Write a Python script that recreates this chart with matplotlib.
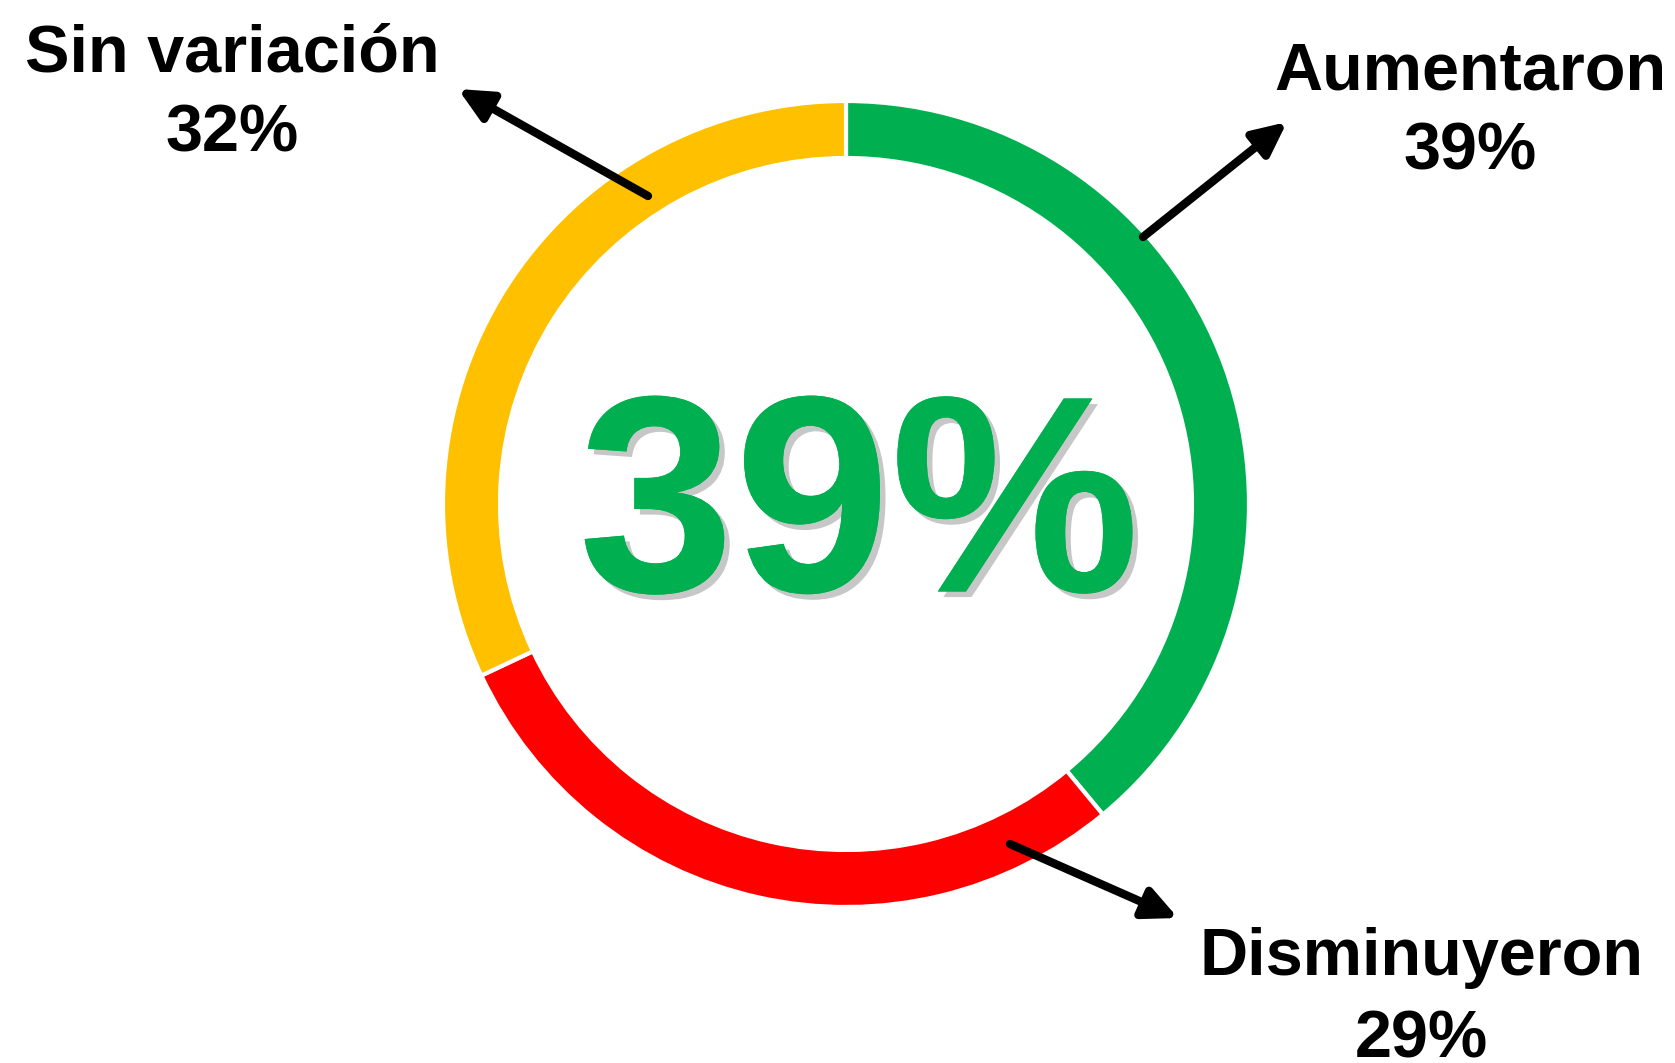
import matplotlib
matplotlib.use("Agg")
import matplotlib.pyplot as plt
import matplotlib.patheffects as pe

categories = ["Aumentaron", "Disminuyeron", "Sin variación"]
values = [39, 29, 32]
colors = ["#00B050", "#FF0000", "#FFC000"]
center_label = "39%"

W, H = 1675, 1063
fig = plt.figure(figsize=(W / 100, H / 100), dpi=100)
ax = fig.add_axes([0, 0, 1, 1])
ax.set_xlim(0, W)
ax.set_ylim(0, H)
ax.set_aspect("equal")
ax.axis("off")

cx, cy = 846, H - 504
ax.pie(values, colors=colors, startangle=90, counterclock=False,
       radius=403, center=(cx, cy), frame=True,
       wedgeprops=dict(width=57, edgecolor="white", linewidth=3))
ax.set_xlim(0, W)
ax.set_ylim(0, H)
ax.axis("off")

font = "Liberation Sans"
ax.text(859, H - 519, center_label, color=colors[0], fontsize=202, fontweight="bold",
        family=font, ha="center", va="center",
        path_effects=[pe.withSimplePatchShadow(offset=(4, -4), shadow_rgbFace="#999999", alpha=0.55),
                      pe.Normal()])

# label positions (x, y of first line center, y of second line center) in image pixels
label_pos = {
    "Aumentaron": (1470, 72, 152),
    "Disminuyeron": (1421, 958, 1040),
    "Sin variación": (232, 55, 135),
}
arrows = {
    "Aumentaron": ((1143, 237), (1287, 122)),
    "Disminuyeron": ((1010, 844), (1178, 918)),
    "Sin variación": ((648, 196), (458, 89)),
}
for cat, val in zip(categories, values):
    x, y1, y2 = label_pos[cat]
    ax.text(x, H - y1, cat, fontsize=48, fontweight="bold", family=font,
            ha="center", va="center", color="black")
    ax.text(x, H - y2, f"{val}%", fontsize=48, fontweight="bold", family=font,
            ha="center", va="center", color="black")
    (tx, ty), (hx, hy) = arrows[cat]
    ax.annotate("", xy=(hx, H - hy), xytext=(tx, H - ty),
                arrowprops=dict(arrowstyle="-|>,head_length=2.0,head_width=0.95",
                                color="black", lw=6, shrinkA=0, shrinkB=0))

fig.savefig("out.png", dpi=100, facecolor="white")
